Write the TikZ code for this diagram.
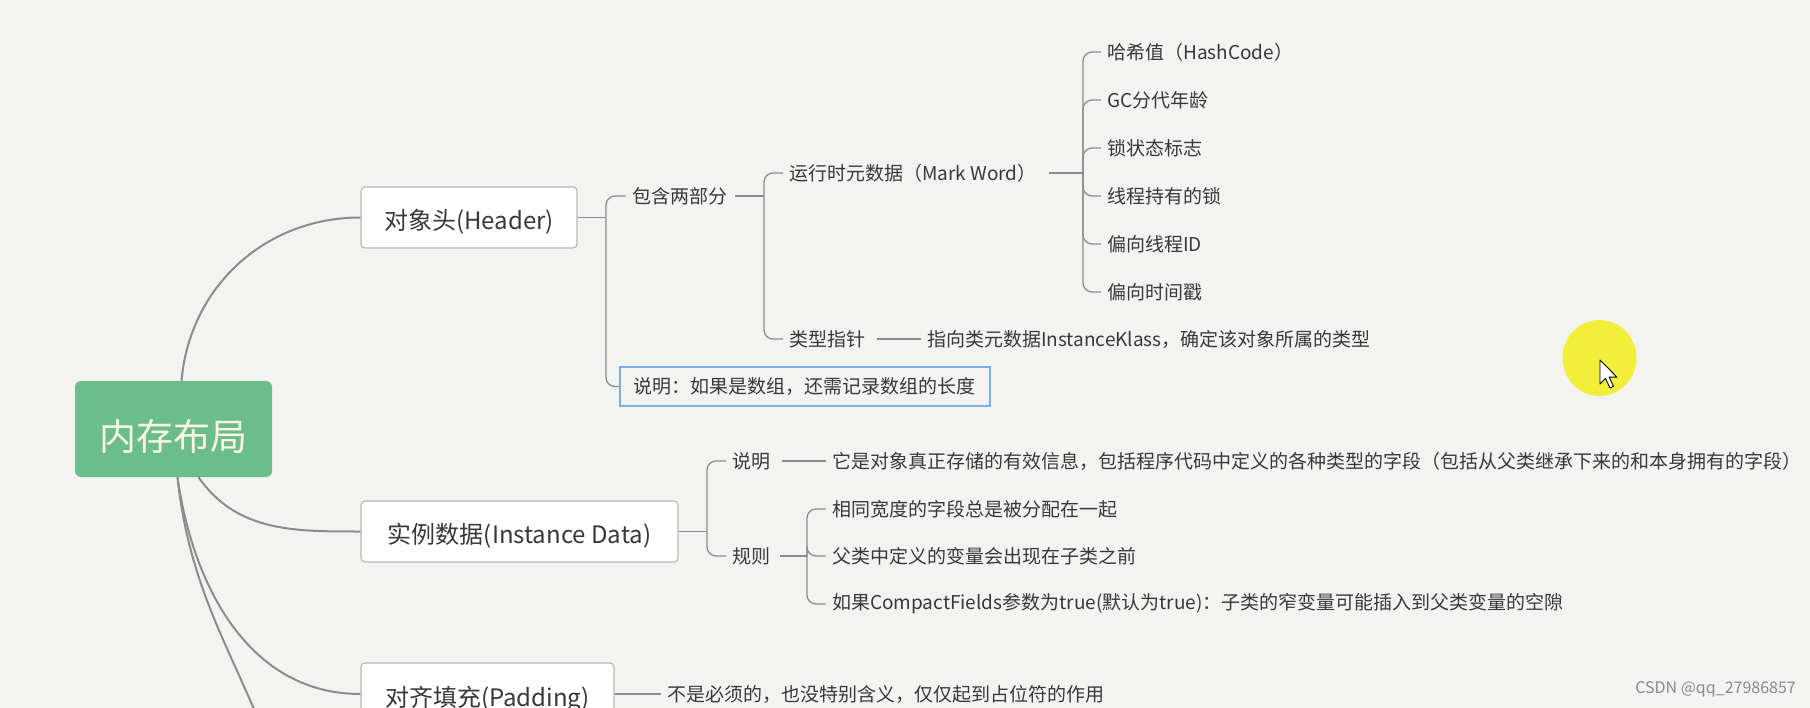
\documentclass[tikz,border=0pt]{standalone}
\usepackage{fontspec}
\setmainfont{Noto Sans CJK SC}
\definecolor{bgc}{HTML}{F3F4F2}
\definecolor{linec}{HTML}{8C8C8C}
\definecolor{boxc}{HTML}{B8B8B8}
\definecolor{greenc}{HTML}{6BBD8B}
\definecolor{rootTxt}{HTML}{F8F8DC}
\definecolor{txt}{HTML}{383838}
\definecolor{notec}{HTML}{7BAFE3}
\definecolor{yel}{HTML}{F2EF3C}
\definecolor{wm}{HTML}{8A8A8A}
\tikzset{
  mainconn/.style={draw=linec, line width=2pt},
  conn/.style={draw=linec, line width=1.3pt},
  brk/.style={draw=linec, line width=1.3pt, rounded corners=9pt},
  rootbox/.style={fill=greenc, rounded corners=6pt, text=rootTxt, font=\fontsize{37}{44}\selectfont, inner sep=0pt, text height=43pt, text depth=0pt},
  branch/.style={draw=boxc, line width=1.2pt, fill=white, rounded corners=4pt, font=\fontsize{24}{28}\selectfont, text=txt, inner sep=0pt, text height=24pt, text depth=0pt},
  leaf/.style={anchor=west, inner xsep=6pt, inner ysep=2pt, font=\fontsize{19}{23}\selectfont, text=txt},
  notebox/.style={draw=notec, line width=1.6pt, font=\fontsize{19}{23}\selectfont, text=txt, inner ysep=0pt, inner xsep=14pt, align=left},
}
\begin{document}
\begin{tikzpicture}[x=1pt,y=-1pt]
\useasboundingbox (0,0) rectangle (1810,708);
\fill[bgc] (0,0) rectangle (1810,708);
\clip (0,0) rectangle (1810,708);

% root and branches
\node[rootbox, minimum width=197pt, minimum height=96pt] (root) at (173.5,429) {内存布局};
\node[branch, minimum width=216pt, minimum height=61pt] (hdr) at (469,217.5) {对象头(Header)};
\node[branch, minimum width=317pt, minimum height=61pt] (inst) at (519.5,531.5) {实例数据(Instance Data)};
\node[branch, minimum width=253pt, minimum height=62pt] (pad) at (487.5,694) {对齐填充(Padding)};
\coordinate (offc) at (285,790);

\draw[mainconn] ([xshift=8pt]root.north) to[out=85,in=180] (hdr.west);
\draw[mainconn] ([xshift=25pt]root.south) to[out=-55,in=180] (inst.west);
\draw[mainconn] ([xshift=4pt]root.south) to[out=-82,in=180] (pad.west);
\draw[mainconn] ([xshift=4pt]root.south) to[out=-84,in=108] (offc);

% header subtree
\node[leaf] (bh) at (626,196) {包含两部分};
\node[notebox, anchor=west, text width=342pt, minimum height=39pt] (note) at (619,386.5) {说明：如果是数组，还需记录数组的长度};
\coordinate (hb) at (606,217.5);
\draw[conn] (hdr.east) -- (hb);
\draw[brk] (hb) |- (bh.west);
\draw[brk] (hb) |- (note.west);

\node[leaf] (mw) at (783,173) {运行时元数据（Mark Word）};
\node[leaf] (tp) at (783,339) {类型指针};
\coordinate (b2) at (764,196);
\draw[conn] ([xshift=2pt]bh.east) -- (b2);
\draw[brk] (b2) |- (mw.west);
\draw[brk] (b2) |- (tp.west);

\coordinate (b3) at (1083,173);
\draw[conn] ([xshift=6pt]mw.east) -- (b3);
\node[leaf] (m1) at (1101,52) {哈希值（HashCode）};
\node[leaf] (m2) at (1101,100) {GC分代年龄};
\node[leaf] (m3) at (1101,148) {锁状态标志};
\node[leaf] (m4) at (1101,196) {线程持有的锁};
\node[leaf] (m5) at (1101,244) {偏向线程ID};
\node[leaf] (m6) at (1101,292) {偏向时间戳};
\foreach \c in {m1,m2,m3,m4,m5,m6} \draw[brk] (b3) |- (\c.west);

\node[leaf] (tpd) at (921,339) {指向类元数据InstanceKlass，确定该对象所属的类型};
\draw[conn] ([xshift=6pt]tp.east) -- (tpd.west);

% instance data subtree
\coordinate (ib) at (707,531.5);
\draw[conn] (inst.east) -- (ib);
\node[leaf] (ism) at (726,461) {说明};
\node[leaf] (igz) at (726,556) {规则};
\draw[brk] (ib) |- (ism.west);
\draw[brk] (ib) |- (igz.west);
\node[leaf] (ismd) at (826,461) {它是对象真正存储的有效信息，包括程序代码中定义的各种类型的字段（包括从父类继承下来的和本身拥有的字段）};
\draw[conn] ([xshift=6pt]ism.east) -- (ismd.west);

\coordinate (gb) at (807,556);
\draw[conn] ([xshift=4pt]igz.east) -- (gb);
\node[leaf] (g1) at (826,509) {相同宽度的字段总是被分配在一起};
\node[leaf] (g2) at (826,556) {父类中定义的变量会出现在子类之前};
\node[leaf] (g3) at (826,604) {如果CompactFields参数为true(默认为true)：子类的窄变量可能插入到父类变量的空隙};
\foreach \c in {g1,g2,g3} \draw[brk] (gb) |- (\c.west);

% padding subtree
\node[leaf] (pd) at (661,694) {不是必须的，也没特别含义，仅仅起到占位符的作用};
\draw[conn] (pad.east) -- (pd.west);

% cursor highlight
\fill[yel] (1599.5,358) ellipse (37pt and 38pt);
\node[inner sep=0pt] (cur) at (1600,360) {};
\draw[black, fill=white, line width=0.9pt, line join=round] (cur.center) -- ++(0,24) -- ++(5.5,-5.5) -- ++(4.5,9.5) -- ++(3.5,-1.6) -- ++(-4.3,-9.2) -- ++(7.8,0) -- cycle;

% watermark
\node[anchor=east, text=wm, font=\fontsize{16}{18}\selectfont, inner sep=0pt] (csdn) at (1796,689) {CSDN @qq\_27986857};
\end{tikzpicture}
\end{document}
